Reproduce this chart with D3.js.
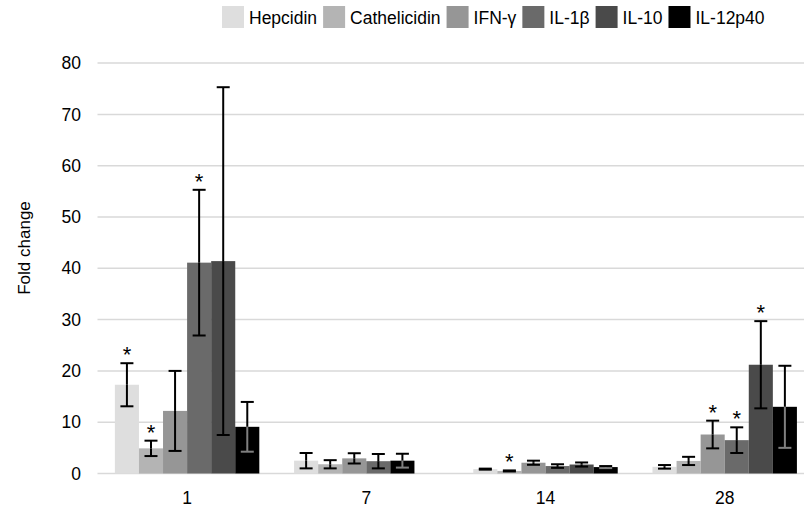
<!DOCTYPE html>
<html>
<head>
<meta charset="utf-8">
<script src="https://cdn.jsdelivr.net/npm/d3@7"></script>
<style>
  html, body { margin: 0; padding: 0; background: #fff; }
  svg { display: block; font-family: "Liberation Sans", Arial, sans-serif; }
</style>
</head>
<body>
<svg id="chart" width="804" height="510"></svg>
<script>
// ---- data ----
const categories = ["1", "7", "14", "28"];
const seriesNames = ["Hepcidin", "Cathelicidin", "IFN-γ", "IL-1β", "IL-10", "IL-12p40"];
const seriesColors = ["#dedede", "#b4b4b4", "#969696", "#6a6a6a", "#4a4a4a", "#000000"];

const hepcidin      = [17.3, 2.5, 0.85, 1.3];
const hepcidinErr   = [4.2, 1.5, 0.1, 0.35];
const cathelicidin  = [4.9, 1.8, 0.5, 2.45];
const cathelicidinErr = [1.5, 0.8, 0.1, 0.8];
const ifng          = [12.2, 2.95, 2.1, 7.6];
const ifngErr       = [7.8, 1.0, 0.4, 2.7];
const il1b          = [41.1, 2.4, 1.45, 6.5];
const il1bErr       = [14.2, 1.4, 0.35, 2.5];
const il10          = [41.4, null, 1.75, 21.2];
const il10Err       = [33.9, null, 0.4, 8.5];
const il12p40       = [9.1, 2.5, 1.25, 13.0];
const il12p40Err    = [4.85, 1.35, 0.2, 8.0];

// significance markers (true = "*")
const hepcidinSig     = [true, false, false, false];
const cathelicidinSig = [true, false, true, false];
const ifngSig         = [false, false, false, true];
const il1bSig         = [true, false, false, true];
const il10Sig         = [false, false, false, true];
const il12p40Sig      = [false, false, false, false];

const yTicks = [0, 10, 20, 30, 40, 50, 60, 70, 80];
const yTitle = "Fold change";

const seriesValues = [hepcidin, cathelicidin, ifng, il1b, il10, il12p40];
const seriesErrors = [hepcidinErr, cathelicidinErr, ifngErr, il1bErr, il10Err, il12p40Err];
const seriesSig = [hepcidinSig, cathelicidinSig, ifngSig, il1bSig, il10Sig, il12p40Sig];

// ---- layout ----
const svg = d3.select("#chart");
const plotLeft = 97.5, plotRight = 814.3, yZero = 473.5, yTop = 63.1;

const x = d3.scaleBand().domain(categories).range([plotLeft, plotRight])
  .paddingInner(0.194).paddingOuter(0.097);
const slot = d3.scaleBand().domain(d3.range(seriesNames.length)).range([0, x.bandwidth()]).padding(0);
const y = d3.scaleLinear().domain([0, 80]).range([yZero, yTop]);

// gridlines
svg.append("g").selectAll("line").data(yTicks).join("line")
  .attr("x1", plotLeft).attr("x2", plotRight)
  .attr("y1", d => y(d)).attr("y2", d => y(d))
  .attr("stroke", "#d9d9d9").attr("stroke-width", 1.5);

// y axis labels
const yAxis = d3.axisLeft(y).tickValues(yTicks).tickSize(0).tickPadding(0);
const yg = svg.append("g").attr("transform", `translate(81,0)`).call(yAxis);
yg.select(".domain").remove();
yg.selectAll("text").attr("font-size", 17.5).attr("fill", "#000")
  .attr("font-family", "Liberation Sans, Arial, sans-serif");

// x axis labels
const xAxis = d3.axisBottom(x).tickSize(0).tickPadding(0);
const xg = svg.append("g").attr("transform", `translate(0,${yZero + 18})`).call(xAxis);
xg.select(".domain").remove();
xg.selectAll("text").attr("font-size", 17.5).attr("fill", "#000")
  .attr("font-family", "Liberation Sans, Arial, sans-serif");

// y title
svg.append("text")
  .attr("transform", `translate(30,248) rotate(-90)`)
  .attr("text-anchor", "middle")
  .attr("font-size", 17)
  .text(yTitle);

// bars: present values placed in consecutive slots
const bars = [];
categories.forEach((c, ci) => {
  let k = 0;
  seriesNames.forEach((s, si) => {
    const v = seriesValues[si][ci];
    if (v == null) return;
    bars.push({cat: c, si, v, e: seriesErrors[si][ci], sig: seriesSig[si][ci], k});
    k++;
  });
});

const gBars = svg.append("g");
gBars.selectAll("rect").data(bars).join("rect")
  .attr("x", d => x(d.cat) + slot(d.k))
  .attr("width", slot.bandwidth())
  .attr("y", d => y(d.v))
  .attr("height", d => y(0) - y(d.v))
  .attr("fill", d => seriesColors[d.si]);

// error bars
const gErr = svg.append("g");
bars.forEach(d => {
  const cx = x(d.cat) + slot(d.k) + slot.bandwidth() / 2;
  const top = y(d.v + d.e), bot = y(Math.max(0, d.v - d.e)), bar = y(d.v);
  const dark = seriesColors[d.si] === "#000000";
  const inCol = dark ? "#808080" : "#000";
  gErr.append("line").attr("x1", cx).attr("x2", cx).attr("y1", top).attr("y2", bar)
    .attr("stroke", "#000").attr("stroke-width", 2);
  gErr.append("line").attr("x1", cx).attr("x2", cx).attr("y1", bar).attr("y2", bot)
    .attr("stroke", inCol).attr("stroke-width", 2);
  gErr.append("line").attr("x1", cx - 6.5).attr("x2", cx + 6.5).attr("y1", top).attr("y2", top)
    .attr("stroke", top < bar ? "#000" : inCol).attr("stroke-width", 2);
  gErr.append("line").attr("x1", cx - 6.5).attr("x2", cx + 6.5).attr("y1", bot).attr("y2", bot)
    .attr("stroke", bot < bar ? "#000" : inCol).attr("stroke-width", 2);
  if (d.sig) {
    gErr.append("text").attr("x", cx).attr("y", top - 1)
      .attr("text-anchor", "middle").attr("font-size", 22).text("*");
  }
});

// legend
const lg = svg.append("g");
let lx = 222;
seriesNames.forEach((s, i) => {
  lg.append("rect").attr("x", lx).attr("y", 6).attr("width", 22).attr("height", 22)
    .attr("fill", seriesColors[i]);
  const t = lg.append("text").attr("x", lx + 27).attr("y", 24)
    .attr("font-size", 17.5).text(s);
  lx += 27 + t.node().getComputedTextLength() + 6;
});
</script>
</body>
</html>
